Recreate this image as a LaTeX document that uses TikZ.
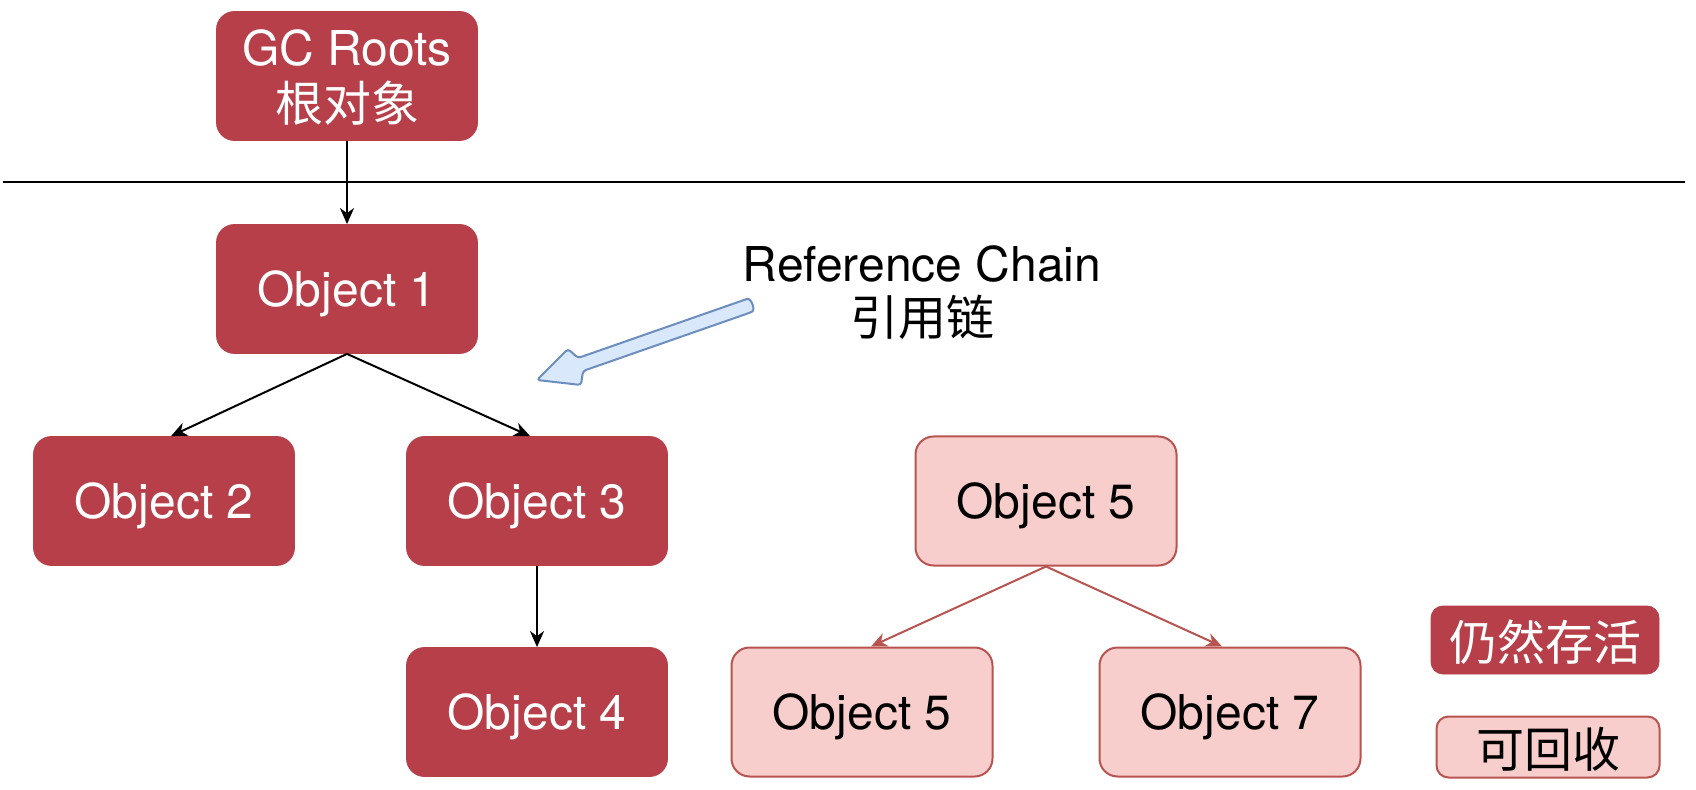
\documentclass[tikz,border=0pt]{standalone}
\usepackage{fontspec}
\setmainfont{TeX Gyre Heros}
\newfontfamily\cjk{Noto Sans CJK SC}
\usetikzlibrary{arrows.meta,calc}
\definecolor{live}{RGB}{183,63,73}
\definecolor{deadfill}{RGB}{248,206,204}
\definecolor{deadline}{RGB}{184,84,80}
\definecolor{chainfill}{RGB}{218,232,252}
\definecolor{chainline}{RGB}{108,142,191}
\begin{document}
\begin{tikzpicture}[x=0.5pt,y=-0.5pt,
  box/.style={rectangle, rounded corners=9pt, minimum width=130.5pt, minimum height=64.5pt, inner sep=0pt, text depth=0pt, font=\fontsize{24}{28}\selectfont, align=center},
  livebox/.style={box, fill=live, draw=live, text=white},
  deadbox/.style={box, fill=deadfill, draw=deadline, line width=1pt, text=black},
  link/.style={-{Stealth[length=8pt,width=7pt,inset=2.5pt]}, line width=1pt, draw=black},
  deadlink/.style={link, draw=deadline, color=deadline},
]
\useasboundingbox (0,0) rectangle (1696,790);

% separator
\coordinate (lineL) at (3,182);
\coordinate (lineR) at (1685,182);
\draw[line width=1pt] (lineL) -- (lineR);

% live objects
\node[livebox] (root) at (347,76) {GC Roots\\{\cjk 根对象}};
\node[livebox] (o1) at (347,289) {Object 1};
\node[livebox] (o2) at (164,501) {Object 2};
\node[livebox] (o3) at (537,501) {Object 3};
\node[livebox] (o4) at (537,712) {Object 4};

% collectable objects
\node[deadbox] (o5) at (1046,501) {Object 5};
\node[deadbox] (o6) at (862,712) {Object 5};
\node[deadbox] (o7) at (1230,712) {Object 7};

% legend
\node[livebox, minimum width=114pt, minimum height=34pt, rounded corners=6pt] (lglive) at (1545,640) {{\cjk 仍然存活}};
\node[deadbox, minimum width=111.5pt, minimum height=30.5pt, rounded corners=6pt] (lgdead) at (1548,747) {{\cjk 可回收}};

% label
\node[font=\fontsize{24}{27}\selectfont, align=center, inner sep=0pt] (chain) at (922,293) {Reference Chain\\{\cjk 引用链}};

% connectors
\draw[link] (root) -- (o1);
\draw[link] (o1.south) -- ($(o2.north)+(7,0)$);
\draw[link] (o1.south) -- ($(o3.north)+(-7,0)$);
\draw[link] (o3) -- (o4);
\draw[deadlink] (o5.south) -- ($(o6.north)+(9,0)$);
\draw[deadlink] (o5.south) -- ($(o7.north)+(-8,0)$);

% reference chain pointer
\draw[fill=chainfill, draw=chainline, line width=1pt, rounded corners=1.5pt]
  (537,380) -- (568,349) -- (578,358) -- (744,300)
  .. controls (751,297.5) and (756,310) .. (749,313)
  -- (583,371) -- (581,385) -- cycle;
\end{tikzpicture}
\end{document}
